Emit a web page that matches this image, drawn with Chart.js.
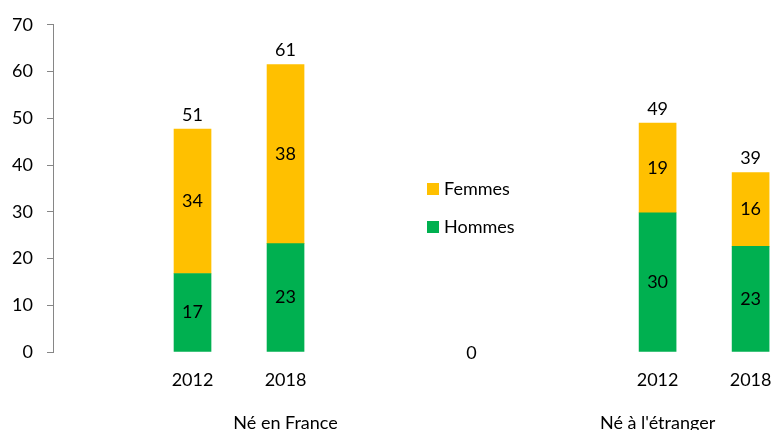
<!DOCTYPE html>
<html>
<head>
<meta charset="utf-8">
<script src="https://cdn.jsdelivr.net/npm/chart.js@4.4.1/dist/chart.umd.min.js"></script>
<style>
  html, body { margin: 0; padding: 0; background: #fff; }
  #wrap { width: 772px; height: 430px; }
</style>
</head>
<body>
<div id="wrap"><canvas id="barChart"></canvas></div>
<script>
// x slots: two years per group, empty slots between the groups
const categories = ['2012', '2018', '', '', '', '2012', '2018'];
// bar heights as drawn in the picture
const hommes = [16.8, 23.2, null, null, null, 29.8, 22.6];
const femmes = [30.9, 38.3, null, null, null, 19.2, 15.8];
// printed values
const hommesLabels = ['17', '23', '', '', '', '30', '23'];
const femmesLabels = ['34', '38', '', '', '', '19', '16'];
const totalLabels = ['51', '61', '', '0', '', '49', '39'];
const groups = ['Né en France', "Né à l'étranger"];
const groupSlot = [1, 5];

const FONT = 'Lato, "Open Sans", sans-serif';
const FONT_SIZE = 18;
const AXIS_GREY = '#868686';

const toPoints = arr => arr
  .map((v, i) => ({ x: i, y: v }))
  .filter(p => p.y !== null);

const valueLabels = {
  id: 'valueLabels',
  afterDatasetsDraw(chart) {
    const ctx = chart.ctx;
    const x = chart.scales.x, y = chart.scales.y;
    ctx.save();
    ctx.font = FONT_SIZE + 'px ' + FONT;
    ctx.fillStyle = '#000';
    ctx.textAlign = 'center';
    ctx.textBaseline = 'middle';

    const texts = [hommesLabels, femmesLabels];
    chart.data.datasets.forEach((ds, di) => {
      chart.getDatasetMeta(di).data.forEach((el, j) => {
        const t = texts[di][ds.data[j].x];
        if (t) ctx.fillText(t, el.x, (el.y + el.base) / 2);
      });
    });

    totalLabels.forEach((t, i) => {
      if (!t) return;
      const sum = (hommes[i] || 0) + (femmes[i] || 0);
      const py = sum === 0 ? y.getPixelForValue(0) + 1 : y.getPixelForValue(sum) - 14;
      ctx.fillText(t, x.getPixelForValue(i), py);
    });

    // group labels under the years
    groups.forEach((g, k) => {
      ctx.fillText(g, x.getPixelForValue(groupSlot[k]), chart.chartArea.bottom + 71);
    });

    // legend in the middle gap
    const items = [
      { text: 'Femmes', color: chart.data.datasets[1].backgroundColor },
      { text: 'Hommes', color: chart.data.datasets[0].backgroundColor }
    ];
    ctx.textAlign = 'left';
    items.forEach((it, k) => {
      const ly = 189 + k * 38;
      ctx.fillStyle = it.color;
      ctx.fillRect(427, ly - 6, 12, 12);
      ctx.fillStyle = '#000';
      ctx.fillText(it.text, 444, ly);
    });
    ctx.restore();
  }
};

const barConfig = {
  type: 'bar',
  data: {
    datasets: [
      { label: 'Hommes', data: toPoints(hommes), backgroundColor: '#00B050', barThickness: 37 },
      { label: 'Femmes', data: toPoints(femmes), backgroundColor: '#FFC000', barThickness: 37 }
    ]
  },
  options: {
    responsive: true,
    maintainAspectRatio: false,
    animation: false,
    layout: { padding: { top: 23, left: 0, right: 0, bottom: 0 } },
    plugins: {
      legend: { display: false },
      tooltip: { enabled: false }
    },
    scales: {
      x: {
        type: 'linear',
        stacked: true,
        offset: false,
        min: -1.5,
        max: 6.23,
        grid: { drawOnChartArea: false, drawTicks: true, tickLength: 17, tickColor: 'rgba(0,0,0,0)' },
        border: { display: false },
        afterBuildTicks: s => {
          s.ticks = categories
            .map((c, i) => ({ value: i, label: c }))
            .filter(t => t.label);
        },
        afterFit: s => { s.height = 78; },
        ticks: {
          autoSkip: false,
          maxRotation: 0,
          padding: 0,
          color: '#000',
          font: { family: FONT, size: FONT_SIZE },
          callback: v => categories[v]
        }
      },
      y: {
        stacked: true,
        min: 0,
        max: 70,
        afterFit: s => { s.width = 53; },
        grid: { drawOnChartArea: false, drawTicks: true, tickLength: 6, color: AXIS_GREY },
        border: { display: true, color: AXIS_GREY },
        ticks: {
          stepSize: 10,
          padding: 14,
          color: '#000',
          font: { family: FONT, size: FONT_SIZE }
        }
      }
    }
  },
  plugins: [valueLabels]
};

const myBarChart = new Chart(document.getElementById('barChart'), barConfig);
</script>
</body>
</html>
